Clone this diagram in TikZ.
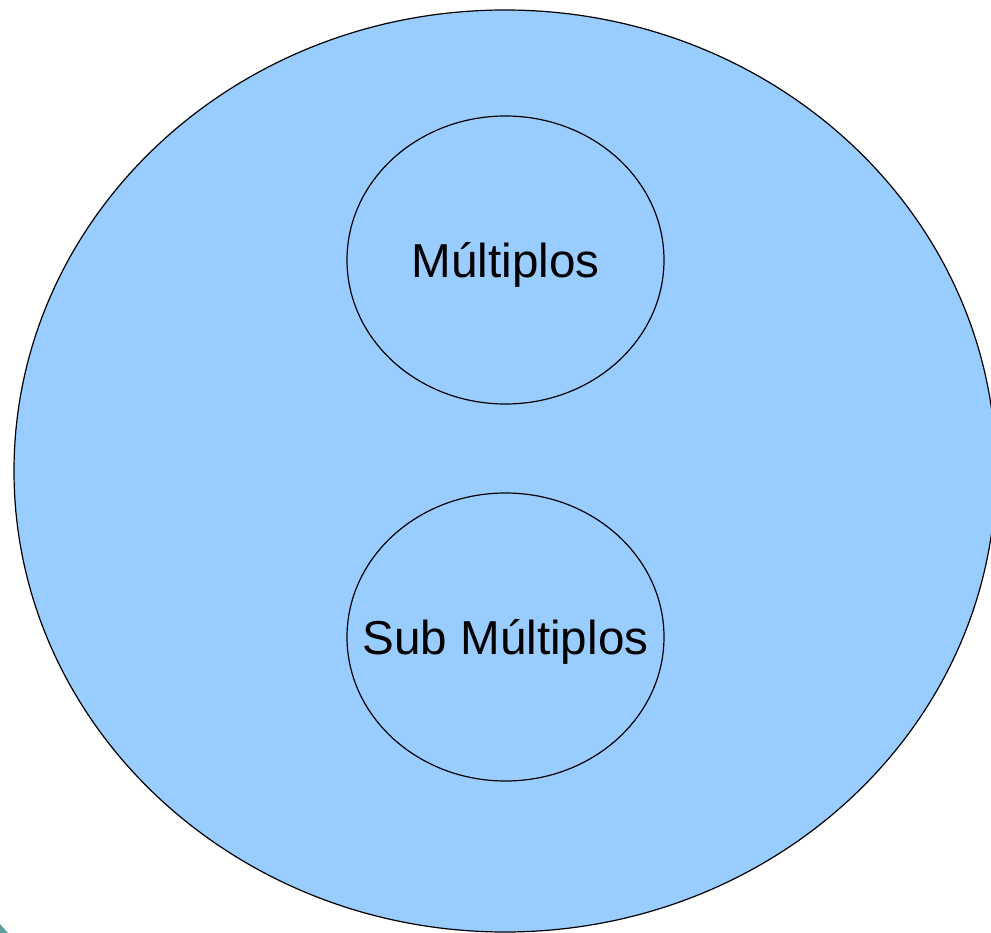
\documentclass[tikz,border=0pt]{standalone}
\usepackage{fontspec}
\setmainfont{Liberation Sans}
\definecolor{fillblue}{HTML}{99CCFF}
\definecolor{teal2}{HTML}{5F9EA0}
\begin{document}
\begin{tikzpicture}[x=1pt,y=-1pt,
  setshape/.style={draw=black,line width=1.2pt,fill=fillblue},
  lbl/.style={font=\fontsize{47.6}{56}\selectfont}]
\useasboundingbox (0,0) rectangle (991,933);
\clip (0,0) rectangle (991,933);
\fill[white] (0,0) rectangle (991,933);
\draw[setshape] (505,471) ellipse [x radius=491, y radius=461];
\draw[setshape] (505.5,260) ellipse [x radius=158.5, y radius=144];
\draw[setshape] (505.5,637) ellipse [x radius=158.5, y radius=144];
\node[lbl] (m) at (505.5,265) {Múltiplos};
\node[lbl] (s) at (505.5,642) {Sub Múltiplos};
\fill[teal2] (0,924) -- (8,933) -- (0,933) -- cycle;
\end{tikzpicture}
\end{document}
